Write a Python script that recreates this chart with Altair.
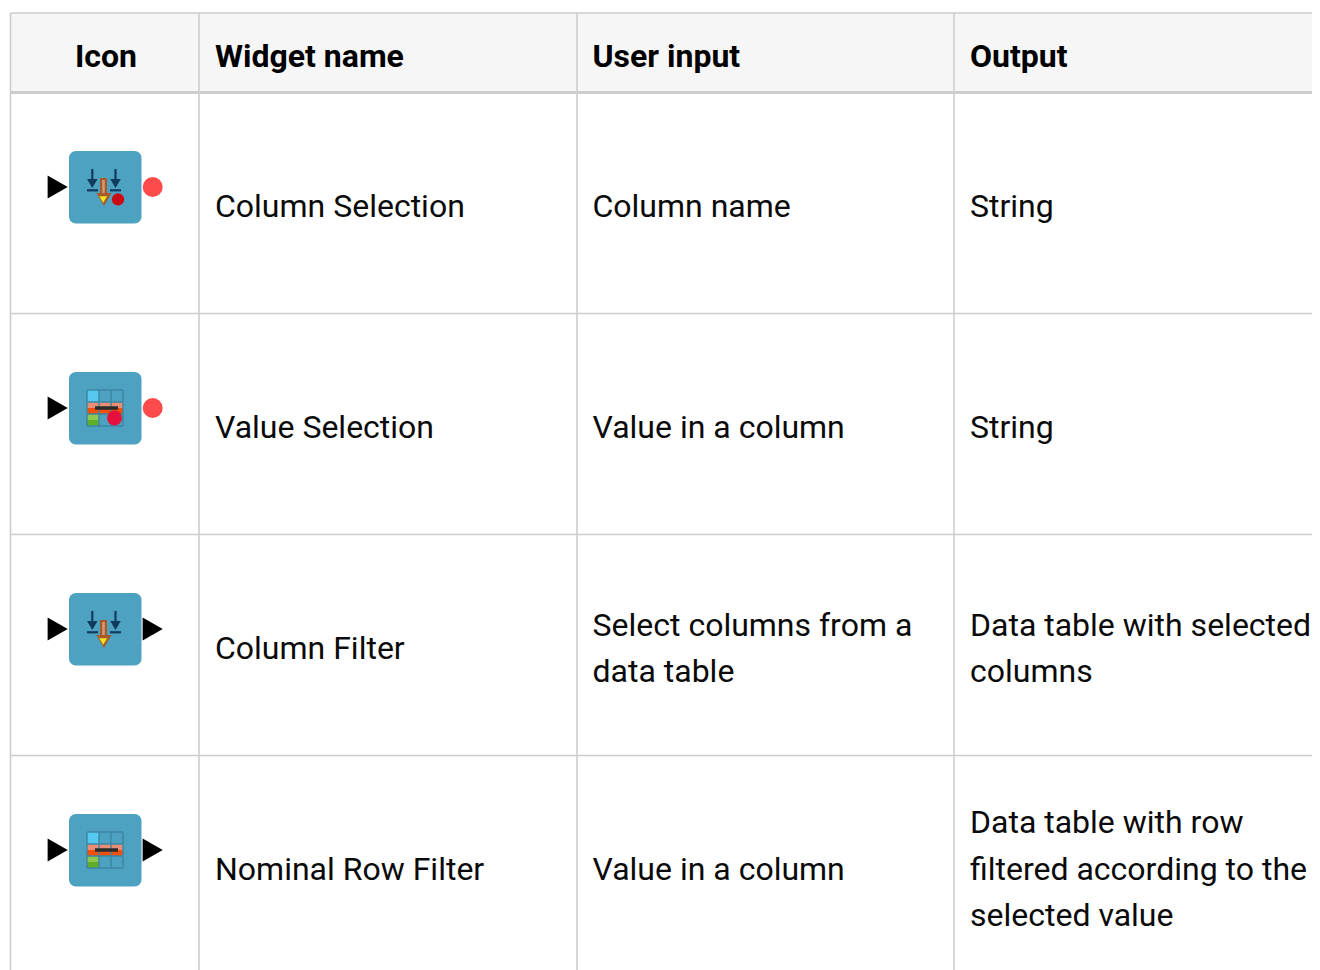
import altair as alt
import pandas as pd

W, H = 1304, 962
FONT = "Roboto"
FS = 32

# Table frame, in page pixels
col_edges = [10.5, 199, 577, 954]
row_edges = [313.5, 534.5, 755.5]
table_top, header_bottom, page_right, page_bottom = 13, 92.5, 1312, 970

# Table text
headers = ["Widget name", "User input", "Output"]
header_x = [215, 592.5, 970]
header_base = 67
text_items = [
    ("Column Selection", 215, 217), ("Column name", 592.5, 217), ("String", 970, 217),
    ("Value Selection", 215, 438), ("Value in a column", 592.5, 438), ("String", 970, 438),
    ("Column Filter", 215, 659),
    ("Select columns from a", 592.5, 636), ("data table", 592.5, 682),
    ("Data table with selected", 970, 636), ("columns", 970, 682),
    ("Nominal Row Filter", 215, 880), ("Value in a column", 592.5, 880),
    ("Data table with row", 970, 833), ("filtered according to the", 970, 880),
    ("selected value", 970, 926),
]

# Icons
icon_tops = [151, 372, 593, 814]
icon_centres = [187, 408, 629, 850]
icon_left, icon_right = 69, 141.5
in_port_x, out_port_x = 57.7, 152.7
red_port_rows = [187, 408]
black_out_rows = [629, 850]

# Inner glyphs: arrows in rows 1 and 3, coloured grids in rows 2 and 4
arrow_rows = [187, 629]
grid_rows = [408, 850]
grid_left, grid_size, cell = 87, 36, 12

X = alt.X("x:Q", scale=alt.Scale(domain=[8, 8 + W], range=[0, W]), axis=None)
Y = alt.Y("y:Q", scale=alt.Scale(domain=[8, 8 + H], range=[0, H]), axis=None)


def rects(rows, **mark):
    df = pd.DataFrame(rows, columns=["x", "x2", "y", "y2", "c"])
    return alt.Chart(df).mark_rect(**mark).encode(
        x=X, x2="x2:Q", y=Y, y2="y2:Q",
        color=alt.Color("c:N", scale=None),
    )


def segs(rows, width):
    df = pd.DataFrame(rows, columns=["x", "x2", "y", "y2", "c"])
    return alt.Chart(df).mark_rule(strokeWidth=width).encode(
        x=X, x2="x2:Q", y=Y, y2="y2:Q",
        color=alt.Color("c:N", scale=None),
    )


def pts(rows, shape, size):
    df = pd.DataFrame(rows, columns=["x", "y", "c"])
    return alt.Chart(df).mark_point(shape=shape, size=size, filled=True, opacity=1).encode(
        x=X, y=Y, color=alt.Color("c:N", scale=None),
    )


BORDER = "#cdcdcd"
layers = []

# header background
layers.append(rects([(10.5, page_right, table_top, header_bottom, "#f6f6f6")]))

# lines
frame = [(x, x, table_top, page_bottom, BORDER) for x in col_edges]
frame += [(10.5, page_right, y, y, BORDER) for y in row_edges]
frame.append((10.5, page_right, table_top, table_top, BORDER))
layers.append(segs(frame, 1.6))
layers.append(segs([(10.5, page_right, header_bottom, header_bottom, BORDER)], 3.2))

# icons
layers.append(rects([(icon_left, icon_right, t, t + 72.5, "#4ea2c1") for t in icon_tops], cornerRadius=7))
layers.append(pts([(in_port_x, c, "#000000") for c in icon_centres], "triangle-right", 540))
layers.append(pts([(out_port_x, c, "#000000") for c in black_out_rows], "triangle-right", 540))
layers.append(pts([(out_port_x, c, "#fd4b4b") for c in red_port_rows], "circle", 400))

# arrow glyphs
dark, brown = "#103a5e", "#a85a2a"
arrow_lines = []
for c in arrow_rows:
    arrow_lines += [
        (92.3, 92.3, c - 18, c - 5, dark), (115.5, 115.5, c - 18, c - 5, dark),
        (87, 98, c + 3.3, c + 3.3, dark), (110, 121, c + 3.3, c + 3.3, dark),
    ]
layers.append(segs(arrow_lines, 2.2))
layers.append(pts([(x, c - 3.5, dark) for c in arrow_rows for x in (92.3, 115.5)], "triangle-down", 110))
layers.append(rects([(100, 107, c - 9, c + 9, brown) for c in arrow_rows]))
layers.append(rects([(102.2, 104.8, c - 7, c + 9, "#cf9a78") for c in arrow_rows]))
layers.append(pts([(104, c + 12.5, brown) for c in arrow_rows], "triangle-down", 230))
layers.append(pts([(103.2, c + 12.5, "#f4e61c") for c in arrow_rows], "triangle-down", 60))
layers.append(pts([(118, 199.3, "#cc0a14")], "circle", 150))

# grid glyphs
grid = []
for c in grid_rows:
    t = c - 18
    grid += [
        (grid_left, grid_left + cell, t, t + cell, "#55c8f0"),
        (grid_left, grid_left + grid_size, t + cell, t + 1.5 * cell, "#e88d76"),
        (grid_left, grid_left + grid_size, t + 1.5 * cell, t + 2 * cell, "#f0500a"),
        (grid_left, grid_left + cell, t + 2 * cell, t + 2.5 * cell, "#8cc850"),
        (grid_left, grid_left + cell, t + 2.5 * cell, t + grid_size, "#5fae28"),
    ]
layers.append(rects(grid))
gl = []
for c in grid_rows:
    t = c - 18
    for k in range(4):
        gl.append((grid_left + k * cell, grid_left + k * cell, t, t + grid_size, "#3d86a3"))
        gl.append((grid_left, grid_left + grid_size, t + k * cell, t + k * cell, "#3d86a3"))
layers.append(segs(gl, 1.4))
layers.append(pts([(114.5, 418, "#e6103c")], "circle", 225))
layers.append(segs([(95, 118, c, c, "#2b2b2b") for c in grid_rows], 3.5))

# text
hdf = pd.DataFrame({"t": headers, "x": header_x, "y": header_base})
layers.append(alt.Chart(hdf).mark_text(font=FONT, fontSize=FS, fontWeight="bold", align="left",
                                       baseline="alphabetic", color="#000000").encode(x=X, y=Y, text="t:N"))
idf = pd.DataFrame({"t": ["Icon"], "x": [106], "y": [header_base]})
layers.append(alt.Chart(idf).mark_text(font=FONT, fontSize=FS, fontWeight="bold", align="center",
                                       baseline="alphabetic", color="#000000").encode(x=X, y=Y, text="t:N"))
tdf = pd.DataFrame(text_items, columns=["t", "x", "y"])
layers.append(alt.Chart(tdf).mark_text(font=FONT, fontSize=FS, align="left",
                                       baseline="alphabetic", color="#0a0a0a").encode(x=X, y=Y, text="t:N"))

chart = alt.layer(*layers).properties(
    width=W, height=H, padding=0,
    autosize=alt.AutoSizeParams(type="none"),
    background="#ffffff",
).configure_view(stroke=None)

chart.save("out.html", embed_options={"renderer": "svg", "actions": False})
